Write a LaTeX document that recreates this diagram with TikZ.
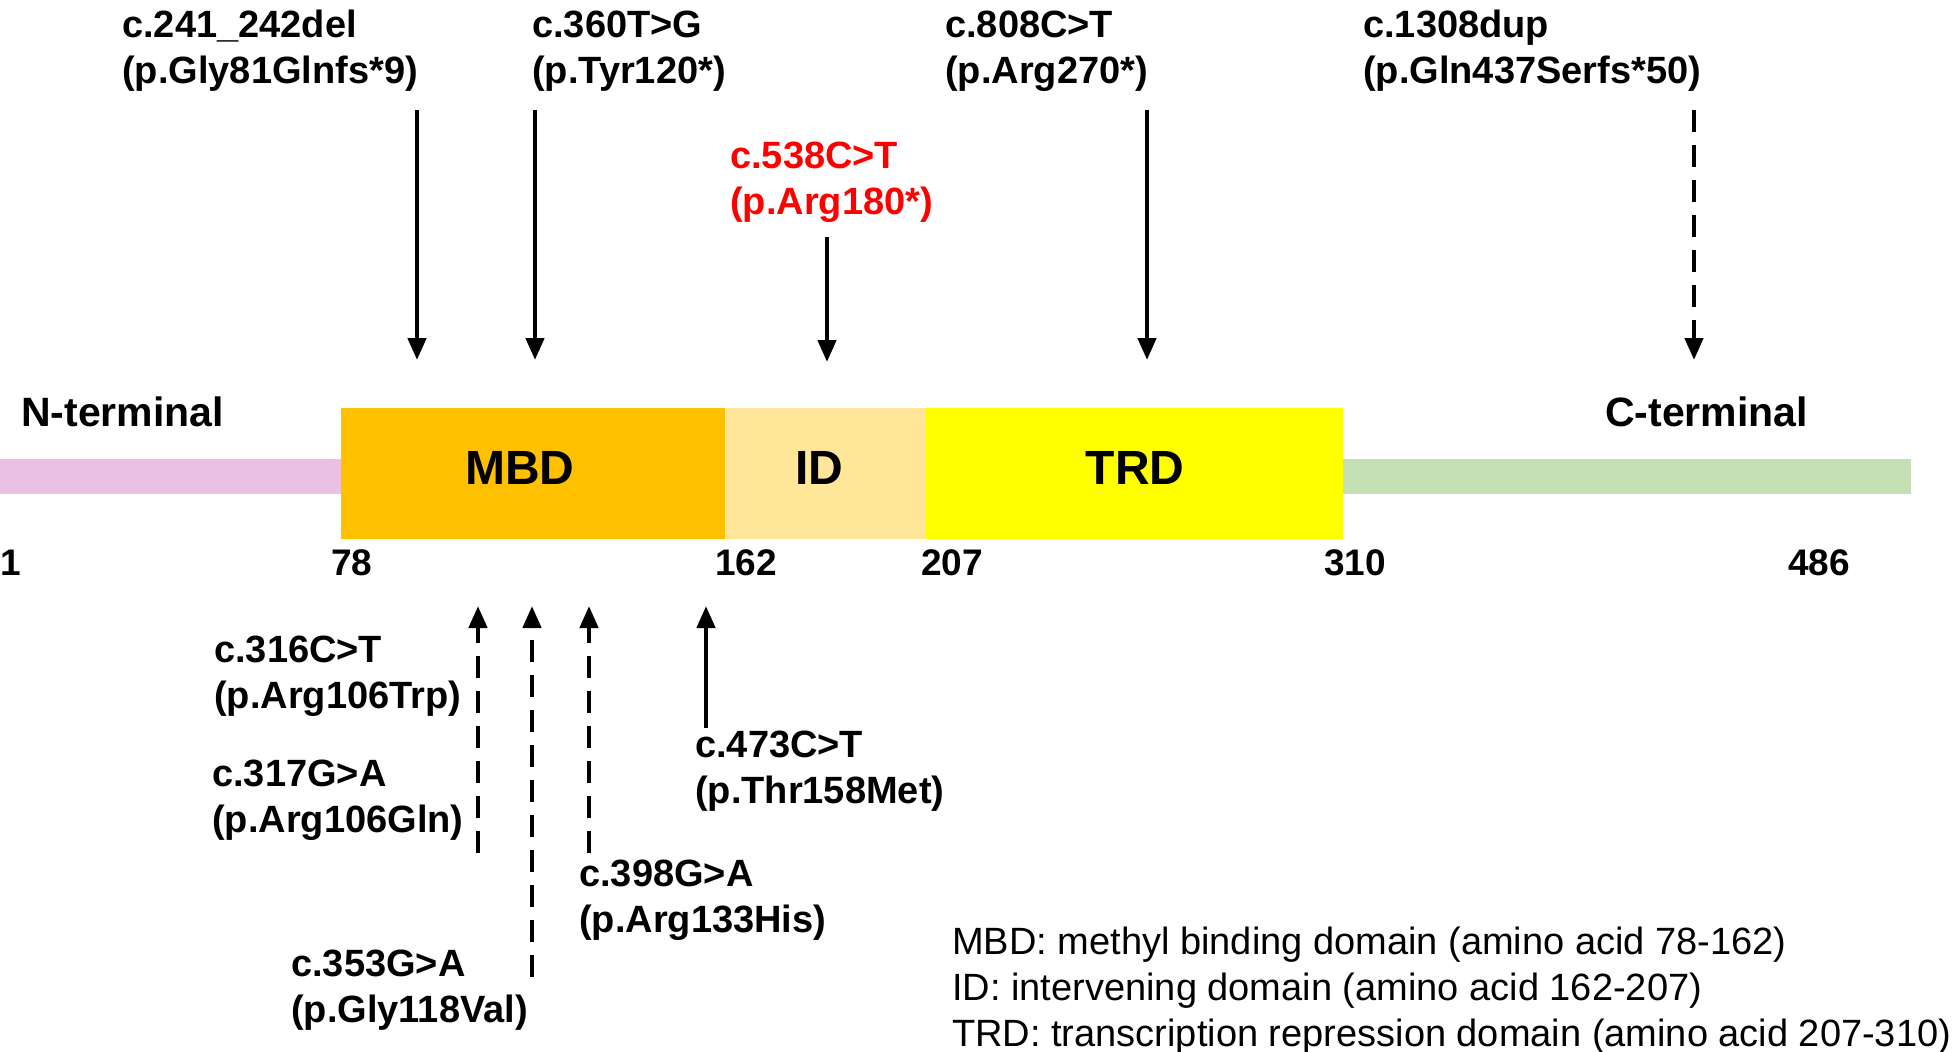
\documentclass[tikz,border=0pt]{standalone}
\usepackage{fontspec}
\setmainfont{Liberation Sans}
\usetikzlibrary{arrows.meta}
\definecolor{nterm}{HTML}{EBC1E3}
\definecolor{mbd}{HTML}{FFC000}
\definecolor{idc}{HTML}{FFE699}
\definecolor{trd}{HTML}{FFFF00}
\definecolor{cterm}{HTML}{C5E0B4}
\definecolor{redlab}{HTML}{FF0000}
\begin{document}
\begin{tikzpicture}[x=1pt,y=-1pt,
  lab/.style={inner sep=0pt,align=left,anchor=west,font=\fontsize{38}{46}\selectfont\bfseries},
  term/.style={inner sep=0pt,anchor=west,font=\fontsize{41}{46}\selectfont\bfseries},
  dom/.style={inner sep=0pt,font=\fontsize{48}{54}\selectfont\bfseries},
  num/.style={inner sep=0pt,font=\fontsize{37}{42}\selectfont\bfseries},
  legend/.style={inner sep=0pt,align=left,anchor=north west,font=\fontsize{38}{46}\selectfont},
  mut/.style={line width=4.5pt,-{Triangle[length=22pt,width=18pt]}},
  mutdash/.style={mut,dash pattern=on 22pt off 13pt}]
\useasboundingbox (0,0) rectangle (1952,1052);
% protein bars
\fill[nterm] (0,459) rectangle (341,494);
\fill[cterm] (1343,459) rectangle (1911,494);
\fill[mbd] (341,408) rectangle (725,539);
\fill[idc] (725,408) rectangle (925,539);
\fill[trd] (925,408) rectangle (1343,539);
\node[dom] (mbdl) at (520,468) {MBD};
\node[dom] (idl) at (819,468) {ID};
\node[dom] (trdl) at (1135,468) {TRD};
\node[term] (nt) at (21,412) {N-terminal};
\node[term] (ct) at (1605,412) {C-terminal};
% numbers
\node[num] (n1) at (11,563) {1};
\node[num] (n78) at (352,563) {78};
\node[num] (n162) at (746,563) {162};
\node[num] (n207) at (952,563) {207};
\node[num] (n310) at (1355,563) {310};
\node[num] (n486) at (1819,563) {486};
% top labels
\node[lab] (t1) at (122,51) {c.241\_242del\\(p.Gly81Glnfs*9)};
\node[lab] (t2) at (532,51) {c.360T>G\\(p.Tyr120*)};
\node[lab,text=redlab] (t3) at (730,182) {c.538C>T\\(p.Arg180*)};
\node[lab] (t4) at (945,51) {c.808C>T\\(p.Arg270*)};
\node[lab] (t5) at (1363,51) {c.1308dup\\(p.Gln437Serfs*50)};
% top arrows
\coordinate (a1s) at (417,110); \coordinate (a1e) at (417,360);
\coordinate (a2s) at (535,110); \coordinate (a2e) at (535,360);
\coordinate (a3s) at (827,237); \coordinate (a3e) at (827,362);
\coordinate (a4s) at (1147,110); \coordinate (a4e) at (1147,360);
\coordinate (a5s) at (1694,110); \coordinate (a5e) at (1694,360);
\draw[mut] (a1s) -- (a1e);
\draw[mut] (a2s) -- (a2e);
\draw[mut] (a3s) -- (a3e);
\draw[mut] (a4s) -- (a4e);
\draw[mutdash] (a5s) -- (a5e);
% bottom labels
\node[lab] (b1) at (214,676) {c.316C>T\\(p.Arg106Trp)};
\node[lab] (b2) at (212,800) {c.317G>A\\(p.Arg106Gln)};
\node[lab] (b3) at (695,771) {c.473C>T\\(p.Thr158Met)};
\node[lab] (b4) at (579,900) {c.398G>A\\(p.Arg133His)};
\node[lab] (b5) at (291,990) {c.353G>A\\(p.Gly118Val)};
% bottom arrows
\coordinate (c1s) at (478,853); \coordinate (c1e) at (478,606);
\coordinate (c2s) at (532,977); \coordinate (c2e) at (532,606);
\coordinate (c3s) at (589,853); \coordinate (c3e) at (589,606);
\coordinate (c4s) at (706,728); \coordinate (c4e) at (706,606);
\draw[mutdash] (c1s) -- (c1e);
\draw[mutdash] (c2s) -- (c2e);
\draw[mutdash] (c3s) -- (c3e);
\draw[mut] (c4s) -- (c4e);
% legend
\node[legend] (leg) at (952,927) {MBD: methyl binding domain (amino acid 78-162)\\ID: intervening domain (amino acid 162-207)\\TRD: transcription repression domain (amino acid 207-310)};
\end{tikzpicture}
\end{document}
